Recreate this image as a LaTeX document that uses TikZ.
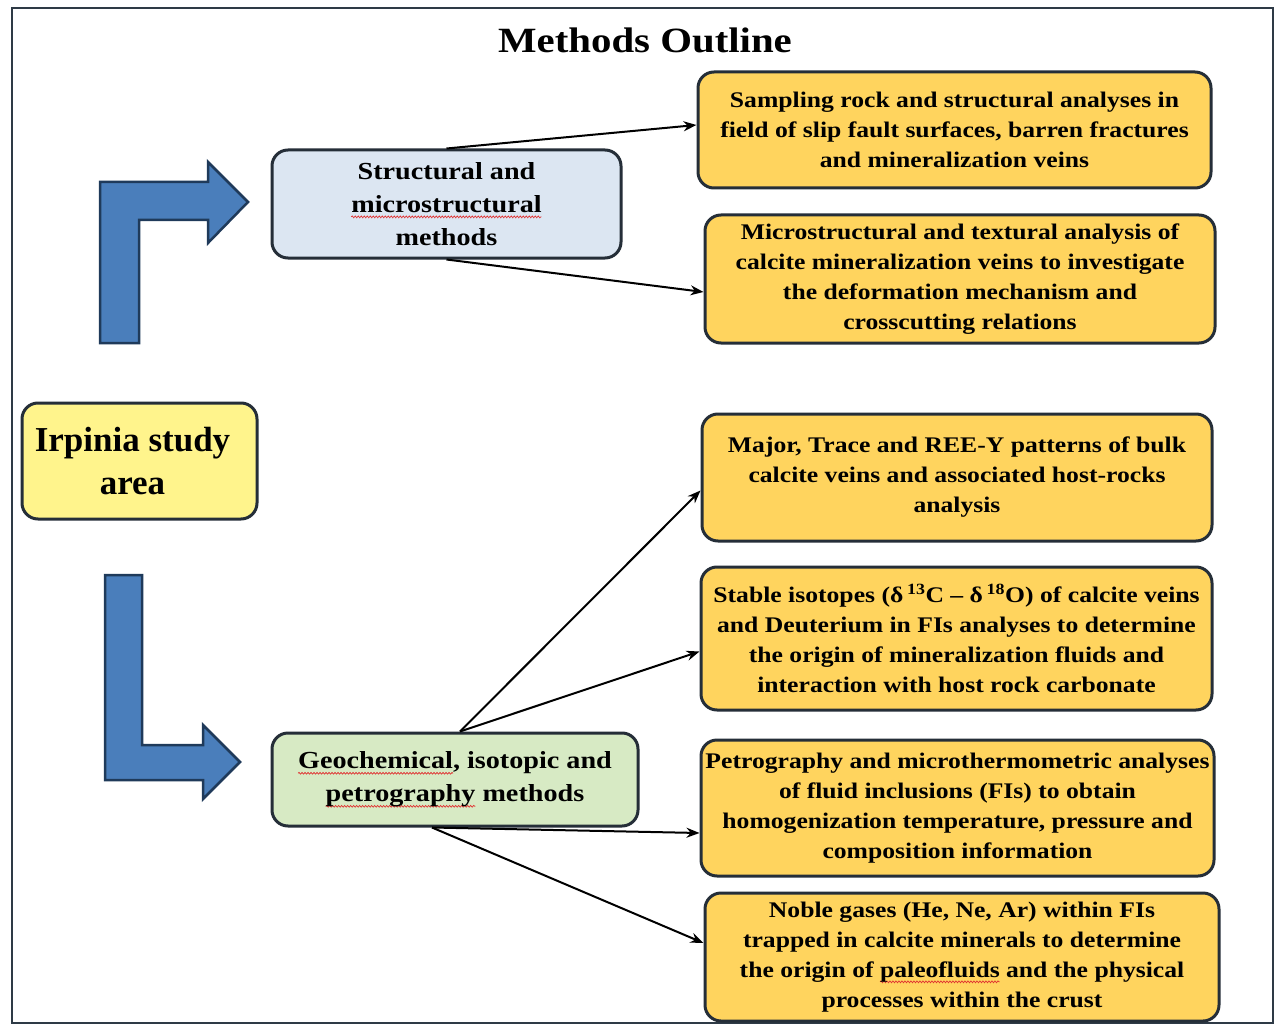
\documentclass[tikz,border=0pt]{standalone}
\usepackage{fontspec}
\setmainfont{Liberation Serif}[FakeStretch=1.15]
\newfontfamily\plainserif{Liberation Serif}
\usetikzlibrary{arrows.meta,calc,decorations.pathmorphing}
\definecolor{frameC}{HTML}{2E3A46}
\definecolor{edgeC}{HTML}{252E38}
\definecolor{goldC}{HTML}{FFD45E}
\definecolor{skyC}{HTML}{DCE6F2}
\definecolor{lemonC}{HTML}{FFF48C}
\definecolor{mintC}{HTML}{D7EAC4}
\definecolor{arrowBlue}{HTML}{4A7EBB}
\definecolor{arrowEdge}{HTML}{1F3A5A}
\definecolor{waveC}{HTML}{E03030}
\newsavebox\wavebox
\newcommand\spellwave[1]{\sbox\wavebox{#1}\rlap{\raisebox{-4.5pt}{\tikz[x=1pt,y=1pt,baseline=0pt,sharp corners]{\useasboundingbox (0,0) rectangle (0,0);\draw[waveC,line width=0.7pt,decorate,decoration={snake,amplitude=0.9pt,segment length=3pt}] (0,0) -- (\the\wd\wavebox,0);}}}\usebox\wavebox}
\tikzset{
  x=1pt,y=-1pt,
  boxbase/.style={draw=edgeC,line width=3pt,rounded corners=16pt,align=center,inner sep=0pt,font=\bfseries},
  goldbox/.style={boxbase,fill=goldC,font=\fontsize{22.3}{30}\selectfont\bfseries},
  conn/.style={line width=2pt,-{Stealth[length=13pt,width=10pt]}},
  bigarrow/.style={fill=arrowBlue,draw=arrowEdge,line width=2.5pt,line join=miter}
}
\begin{document}
\begin{tikzpicture}
\useasboundingbox (0,0) rectangle (1277,1027);
\fill[white] (0,0) rectangle (1277,1027);
\draw[frameC,line width=2.5pt] (12,8) rectangle (1273,1023);

\node (title) at (645,40) {\fontsize{35.5}{40}\selectfont\bfseries Methods Outline};

\node[boxbase,fill=skyC,minimum width=349pt,minimum height=108pt,font=\fontsize{24.5}{33}\selectfont\bfseries] (struct) at (446.5,204) {Structural and\\\spellwave{microstructural}\\methods};
\node[boxbase,fill=lemonC,minimum width=235pt,minimum height=116pt,font=\plainserif\fontsize{35}{43}\selectfont\bfseries] (irp) at (139.5,461) {Irpinia study\hspace*{14pt}\\area\hspace*{14pt}};
\node[boxbase,fill=mintC,minimum width=366pt,minimum height=93pt,font=\fontsize{24.5}{33}\selectfont\bfseries] (geo) at (455,779.5) {\spellwave{Geochemical}, isotopic and\\\spellwave{petrography} methods};

\node[goldbox,minimum width=513pt,minimum height=116pt] (r1) at (954.5,130) {Sampling rock and structural analyses in\\field of slip fault surfaces, barren fractures\\and mineralization veins};
\node[goldbox,minimum width=510pt,minimum height=128pt] (r2) at (960,279) {Microstructural and textural analysis of\\calcite mineralization veins to investigate\\the deformation mechanism and\\crosscutting relations};
\node[goldbox,minimum width=510pt,minimum height=127pt] (r3) at (957,477.5) {Major, Trace and REE-Y patterns of bulk\\calcite veins and associated host-rocks\\analysis};
\node[goldbox,minimum width=511pt,minimum height=143pt] (r4) at (956.5,638.5) {Stable isotopes (δ\,\textsuperscript{13}C -- δ\,\textsuperscript{18}O) of calcite veins\\and Deuterium in FIs analyses to determine\\the origin of mineralization fluids and\\interaction with host rock carbonate};
\node[goldbox,minimum width=513pt,minimum height=136pt] (r5) at (957.5,808) {Petrography and microthermometric analyses\\of fluid inclusions (FIs) to obtain\\homogenization temperature, pressure and\\composition information};
\node[goldbox,minimum width=514pt,minimum height=128pt] (r6) at (962,957) {Noble gases (He, Ne, Ar) within FIs\\trapped in calcite minerals to determine\\the origin of \spellwave{paleofluids} and the physical\\processes within the crust};

% blue bent arrows
\draw[bigarrow] (100,343) -- (100,182) -- (208,182) -- (208,162) -- (248,202) -- (208,243) -- (208,220) -- (139,220) -- (139,343) -- cycle;
\draw[bigarrow] (105,575) -- (142,575) -- (142,745) -- (203,745) -- (203,725) -- (240,762) -- (203,799) -- (203,780) -- (105,780) -- cycle;

% connectors
\draw[conn] (struct.north) -- ([yshift=5pt]r1.west);
\draw[conn] (struct.south) -- ([yshift=-13pt]r2.west);
\draw[conn] ([xshift=5pt]geo.north) -- ([yshift=-13pt]r3.west);
\draw[conn] ([xshift=5pt]geo.north) -- ([yshift=-13pt]r4.west);
\draw[conn] ([xshift=-23pt]geo.south) -- ([yshift=-25pt]r5.west);
\draw[conn] ([xshift=-23pt]geo.south) -- ([yshift=14pt]r6.west);
\end{tikzpicture}
\end{document}
